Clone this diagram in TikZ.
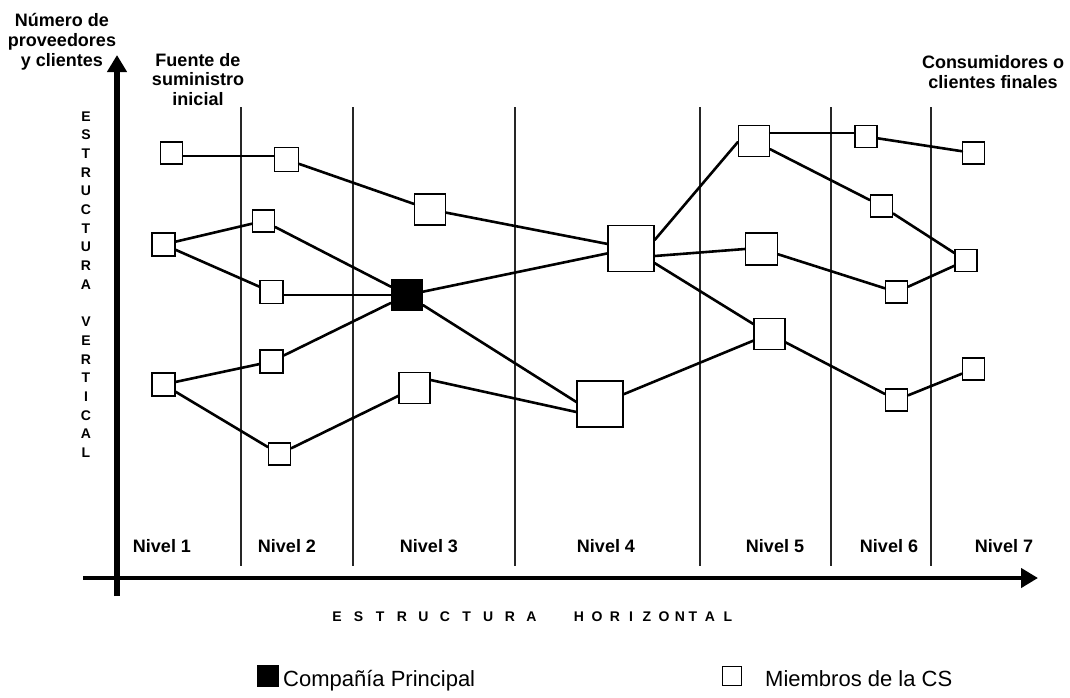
\documentclass[tikz,border=0pt]{standalone}
\usepackage{fontspec}
\setmainfont{Liberation Sans}
\usetikzlibrary{arrows.meta}
\begin{document}
\begin{tikzpicture}[x=1pt,y=-1pt,
  member/.style={draw=black, line width=1.3pt, fill=white, inner sep=0pt, minimum size=#1},
  core/.style={draw=black, fill=black, line width=1.3pt, inner sep=0pt, minimum size=#1},
  link/.style={line width=2.6pt, line cap=round},
  divider/.style={line width=1.5pt, draw=black!85},
  axisline/.style={line width=#1, -{Triangle[width=19pt,length=17pt]}},
  lbl/.style={font=\bfseries\fontsize{18}{20}\selectfont, inner sep=0pt},
  spaced/.style={font=\bfseries\fontsize{14}{14}\selectfont, inner sep=0pt, anchor=base},
  legendtxt/.style={font=\fontsize{22}{24}\selectfont, inner sep=0pt, anchor=base west}]
\useasboundingbox (0,0) rectangle (1070,697);

% level dividers
\foreach \x [count=\i] in {241,353,515,700,831,931} {
  \coordinate (dt\i) at (\x,107);
  \coordinate (db\i) at (\x,566);
  \draw[divider] (dt\i) -- (db\i);
}

% axes
\coordinate (ybot) at (117,596);
\coordinate (ytop) at (117,55);
\coordinate (xleft) at (83,578);
\coordinate (xright) at (1038,578);
\draw[axisline=5.5pt] (ybot) -- (ytop);
\draw[axisline=4.5pt] (xleft) -- (xright);

% supply chain members
\node[member=22] (A1) at (171.5,153) {};
\node[member=24] (B1) at (286.5,159.5) {};
\node[member=31] (C3) at (430,209.5) {};
\node[member=23] (A2) at (163.5,244.5) {};
\node[member=22] (B2) at (263.5,221) {};
\node[member=23] (B3) at (271.5,292) {};
\node[core=31] (K) at (407,295) {};
\node[member=23] (A3) at (163.5,384.5) {};
\node[member=23] (B4) at (271.5,361.5) {};
\node[member=22] (B5) at (279.5,454) {};
\node[member=31] (C4) at (414.5,388) {};
\node[member=46] (D1) at (631,248.5) {};
\node[member=46] (D2) at (600,404) {};
\node[member=31] (E1) at (754,141) {};
\node[member=32] (E2) at (761.5,249) {};
\node[member=31] (E3) at (769.5,334) {};
\node[member=22] (F1) at (866,136.5) {};
\node[member=22] (F2) at (881.5,206) {};
\node[member=22] (F3) at (896.5,292) {};
\node[member=22] (F4) at (896.5,400) {};
\node[member=22] (G1) at (973.5,153) {};
\node[member=22] (G2) at (966,260.5) {};
\node[member=22] (G3) at (973.5,369) {};

% links between members
\foreach \a/\b in {B1/C3, C3/D1, A2/B2, A2/B3, B2/K, K/D1,
  K/B4, A3/B4, A3/B5, B5/C4, D2/E3, D1/E3,
  F1/G1, E1/F2, F2/G2, E2/F3, F3/G2, E3/F4, F4/G3}
  \draw[link] (\a) -- (\b);
% links attached at chosen points of the box sides
\draw[link] ([yshift=-3pt]A1.east) -- ([yshift=3.5pt]B1.west);
\draw[link] ([yshift=-3pt]B3.east) -- (K.west);
\draw[link] (K) -- ([yshift=2pt]D2.west);
\draw[link] ([yshift=8pt]C4.east) -- ([yshift=-8pt]D2.west);
\draw[link] ([yshift=8pt]E1.east) -- ([yshift=3.5pt]F1.west);
\draw[link] ([yshift=8.5pt]D1.east) -- ([yshift=-1pt]E1.west);
\draw[link] ([yshift=-7.5pt]D1.east) -- (E2.west);

% corner captions
\node[lbl, align=center, anchor=north] (cap1) at (62,13) {Número de\\proveedores\\y clientes};
\node[lbl, align=center, anchor=north, font=\bfseries\fontsize{18}{19.5}\selectfont] (cap2) at (198,53) {Fuente de\\suministro\\inicial};
\node[lbl, align=center, anchor=north] (cap3) at (993,55) {Consumidores o\\clientes finales};

% level names
\foreach \x [count=\i] in {162,287,429,606,775,889,1004}
  \node[lbl, anchor=base] (niv\i) at (\x,552) {Nivel \i};

% vertical axis title, one letter per row
\foreach \c [count=\i from 0] in {E,S,T,R,U,C,T,U,R,A,{},V,E,R,T,I,C,A,L}
  \node[spaced] (v\i) at (86,{121+18.7*\i}) {\c};

% horizontal axis title
\foreach \c [count=\i from 0] in {E,S,T,R,U,C,T,U,R,A}
  \node[spaced] (he\i) at ({337+21.6*\i},621) {\c};
\foreach \c/\x [count=\i] in {H/579,O/597,R/615,I/631,Z/647,O/664,N/680,T/693,A/710,L/728}
  \node[spaced] (hh\i) at (\x,621) {\c};

% legend
\node[core=20] (legK) at (268,676) {};
\node[legendtxt] (legKt) at (283,686) {Compañía Principal};
\node[member=19] (legM) at (732,676) {};
\node[legendtxt] (legMt) at (765,686) {Miembros de la CS};
\end{tikzpicture}
\end{document}
